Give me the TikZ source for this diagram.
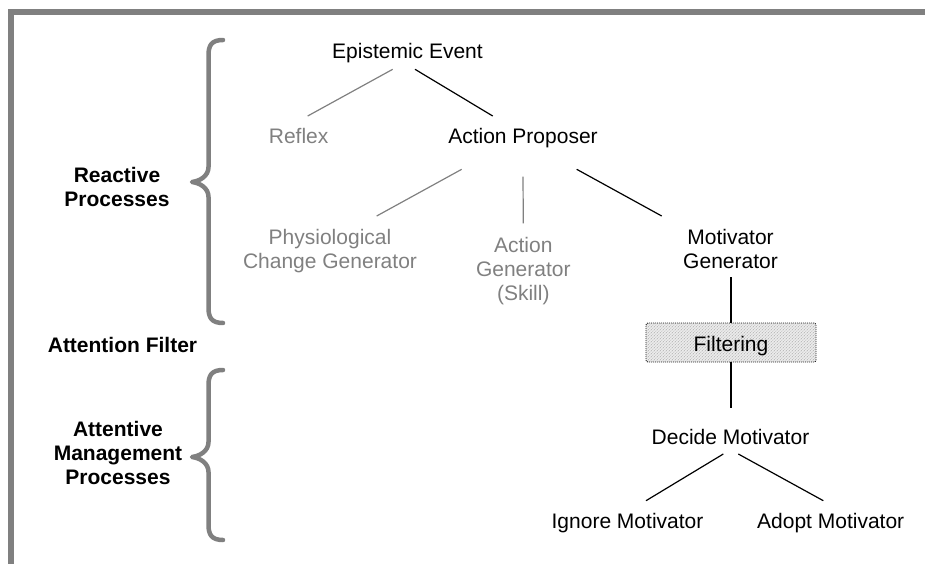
\documentclass[tikz,border=0pt]{standalone}
\usepackage{fontspec}
\setmainfont{Liberation Sans}
\usetikzlibrary{calc,patterns}
\begin{document}
\begin{tikzpicture}[x=1pt,y=-1pt,
  txt/.style={font=\fontsize{21}{24}\selectfont, inner sep=0pt, text=black},
  faint/.style={txt, text=gray},
  side/.style={txt, font=\fontsize{21}{24}\selectfont\bfseries},
  darkline/.style={draw=black, line width=1.2pt},
  faintline/.style={draw=gray, line width=1.2pt},
  bracepath/.style={draw=gray, line width=4.5pt, line cap=round, line join=round},
  frame/.style={draw=gray, line width=6pt},
  filterbox/.style={txt, draw=black!85, line width=0.9pt, dash pattern=on 1pt off 1pt,
    rounded corners=2pt, pattern=north east lines, pattern color=gray!65,
    preaction={fill=gray!15}, minimum width=170pt,
    text height=28.7pt, text depth=10.3pt}
]
\useasboundingbox (0,0) rectangle (925,564);
\clip (0,0) rectangle (925,564);

% outer frame (top and left edges)
\draw[frame] (11,570) -- (11,12) -- (930,12);

% braces grouping the process levels
\draw[bracepath] (223,40) .. controls (212,40) and (208.5,45) .. (208.5,55)
  -- (208.5,167) .. controls (208.5,176) and (200,181) .. (192,182)
  .. controls (200,183) and (208.5,188) .. (208.5,197)
  -- (208.5,308) .. controls (208.5,318) and (212,323) .. (223,323);
\draw[bracepath] (223,370) .. controls (212,370) and (208.5,375) .. (208.5,385)
  -- (208.5,442) .. controls (208.5,451) and (200,456) .. (192,457)
  .. controls (200,458) and (208.5,463) .. (208.5,472)
  -- (208.5,525) .. controls (208.5,535) and (212,540) .. (223,540);

% level labels
\node[side, align=center] (rp) at (117,187) {Reactive\\Processes};
\node[side, anchor=base] (af) at (122.5,352) {Attention Filter};
\node[side, align=center] (amp) at (118,453) {Attentive\\Management\\Processes};

% process tree
\node[txt, anchor=base] (ee) at (407.5,58.5) {Epistemic Event};
\node[faint, anchor=base] (rf) at (298.6,144) {Reflex};
\node[txt, anchor=base] (ap) at (523,144) {Action Proposer};
\node[faint, align=center] (pcg) at (330,251) {Physiological\\Change Generator};
\node[faint, align=center] (ag) at (523.3,271.3) {Action\\Generator\\(Skill)};
\node[txt, align=center] (mg) at (730.5,248.8) {Motivator\\Generator};
\node[filterbox, anchor=base] (fl) at (731,351.7) {Filtering};
\node[txt, anchor=base] (dm) at (730.5,444.3) {Decide Motivator};
\node[txt, anchor=base] (im) at (627.5,528.3) {Ignore Motivator};
\node[txt, anchor=base] (am) at (830.7,528.3) {Adopt Motivator};

% connectors
\draw[faintline] ($(ee.base)+(-14.8,10.8)$) -- ($(rf.base)+(9.1,-28)$);
\draw[darkline] ($(ee.base)+(7.5,10.8)$) -- ($(ap.base)+(-30.3,-28)$);
\draw[faintline] ($(ap.base)+(-61.3,25.3)$) -- ($(pcg.center)+(46.7,-35)$);
\draw[faintline] ($(ap.base)+(0,32.7)$) -- ($(ag.center)+(0,-48)$);
\draw[darkline] ($(ap.base)+(53.7,25.3)$) -- ($(mg.center)+(-68.8,-32.8)$);
\draw[darkline] ($(mg.center)+(0.5,28.5)$) -- (fl.north);
\draw[darkline] (fl.south) -- ($(dm.base)+(0.5,-36)$);
\draw[darkline] ($(dm.base)+(-7.2,9.7)$) -- ($(im.base)+(18.5,-27.6)$);
\draw[darkline] ($(dm.base)+(7.8,9.7)$) -- ($(am.base)+(-7.4,-27.6)$);
\end{tikzpicture}
\end{document}
